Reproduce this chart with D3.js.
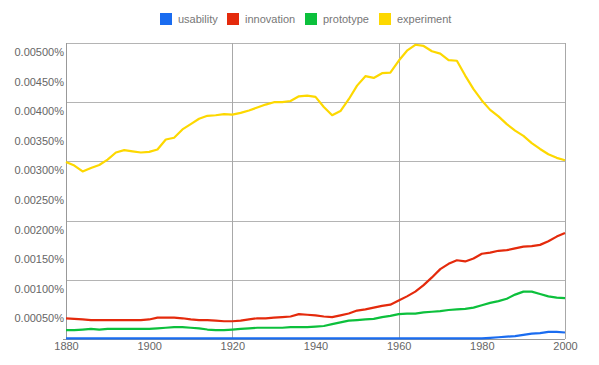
<!DOCTYPE html>
<html>
<head>
<meta charset="utf-8">
<script src="https://cdn.jsdelivr.net/npm/d3@7"></script>
<style>
  html, body { margin: 0; padding: 0; background: #fff; }
  svg { display: block; font-family: "Liberation Sans", Arial, sans-serif; }
</style>
</head>
<body>
<svg id="chart" width="599" height="365"></svg>
<script>
const years = d3.range(1880, 2001, 2);

const usability = [
  0.00001,0.00001,0.00001,0.00001,0.00001,0.00001,0.00001,0.00001,0.00001,0.00001,
  0.00001,0.00001,0.00001,0.00001,0.00001,0.00001,0.00001,0.00001,0.00001,0.00001,
  0.00001,0.00001,0.00001,0.00001,0.00001,0.00001,0.00001,0.00001,0.00001,0.00001,
  0.00001,0.00001,0.00001,0.00001,0.00001,0.00001,0.00001,0.00001,0.00001,0.00001,
  0.00001,0.00001,0.00001,0.00001,0.00001,0.00001,0.00001,0.00001,0.00001,0.00001,
  0.00001,0.00002,0.00003,0.00004,0.00005,0.00007,0.00009,0.00010,0.00012,0.00012,
  0.00011
];

const innovation = [
  0.00035,0.00034,0.00033,0.00032,0.00032,0.00032,0.00032,0.00032,0.00032,0.00032,
  0.00033,0.00036,0.00036,0.00036,0.00035,0.00033,0.00032,0.00032,0.00031,0.00030,
  0.00030,0.00031,0.00033,0.00035,0.00035,0.00036,0.00037,0.00038,0.00042,0.00041,
  0.00040,0.00038,0.00037,0.00040,0.00043,0.00048,0.00050,0.00053,0.00056,0.00058,
  0.00065,0.00072,0.00080,0.00091,0.00104,0.00118,0.00127,0.00133,0.00131,0.00136,
  0.00144,0.00146,0.00149,0.00150,0.00153,0.00156,0.00157,0.00159,0.00165,0.00173,
  0.00179
];

const prototype = [
  0.00015,0.00015,0.00016,0.00017,0.00016,0.00017,0.00017,0.00017,0.00017,0.00017,
  0.00017,0.00018,0.00019,0.00020,0.00020,0.00019,0.00018,0.00016,0.00015,0.00015,
  0.00016,0.00017,0.00018,0.00019,0.00019,0.00019,0.00019,0.00020,0.00020,0.00020,
  0.00021,0.00022,0.00025,0.00028,0.00031,0.00032,0.00033,0.00034,0.00037,0.00039,
  0.00042,0.00043,0.00043,0.00045,0.00046,0.00047,0.00049,0.00050,0.00051,0.00053,
  0.00057,0.00061,0.00064,0.00068,0.00075,0.00080,0.00080,0.00076,0.00072,0.00070,
  0.00069
];

const experiment = [
  0.00299,0.00293,0.00283,0.00289,0.00294,0.00303,0.00315,0.00319,0.00317,0.00315,
  0.00316,0.00320,0.00337,0.00340,0.00354,0.00363,0.00372,0.00377,0.00378,0.00380,
  0.00379,0.00382,0.00386,0.00391,0.00396,0.00400,0.00400,0.00402,0.00410,0.00411,
  0.00409,0.00392,0.00378,0.00385,0.00405,0.00428,0.00444,0.00441,0.00449,0.00450,
  0.00470,0.00487,0.00497,0.00495,0.00486,0.00482,0.00471,0.00470,0.00445,0.00422,
  0.00403,0.00387,0.00376,0.00363,0.00352,0.00343,0.00331,0.00321,0.00312,0.00306,
  0.00302
];

const seriesNames = ["usability", "innovation", "prototype", "experiment"];
const seriesColors = ["#1a6cf0", "#e42a0c", "#0cc03c", "#fdd800"];
const yLabelValues = [0.0005,0.0010,0.0015,0.0020,0.0025,0.0030,0.0035,0.0040,0.0045,0.0050];
const yGridValues = [0.001,0.002,0.003,0.004,0.005];
const xLabelValues = [1880,1900,1920,1940,1960,1980,2000];
const xGridValues = [1920,1960,2000];

const seriesValues = [usability, innovation, prototype, experiment];

const svg = d3.select("#chart");
const mLeft = 66, mRight = 565, mTop = 43, mBottom = 339;

const x = d3.scaleLinear().domain([1880, 2000]).range([mLeft, mRight]);
const y = d3.scaleLinear().domain([0, 0.005]).range([mBottom, mTop]);

// horizontal gridlines
svg.append("g")
  .attr("transform", `translate(${mLeft},0)`)
  .call(d3.axisLeft(y).tickValues(yGridValues).tickSize(-(mRight - mLeft)).tickFormat(""))
  .call(g => g.select(".domain").remove())
  .call(g => g.selectAll("line").attr("stroke", "#b4b4b4").attr("shape-rendering", "crispEdges"));

// vertical gridlines
svg.append("g")
  .attr("transform", `translate(0,${mBottom})`)
  .call(d3.axisBottom(x).tickValues(xGridValues).tickSize(-(mBottom - mTop)).tickFormat(""))
  .call(g => g.select(".domain").remove())
  .call(g => g.selectAll("line").attr("stroke", "#a8a8a8").attr("shape-rendering", "crispEdges"));

// left axis line
svg.append("line")
  .attr("x1", mLeft).attr("x2", mLeft).attr("y1", mTop).attr("y2", mBottom + 1)
  .attr("stroke", "#999").attr("shape-rendering", "crispEdges");
// bottom axis line
svg.append("line")
  .attr("x1", mLeft - 3).attr("x2", mRight).attr("y1", mBottom).attr("y2", mBottom)
  .attr("stroke", "#999").attr("shape-rendering", "crispEdges");

// y labels
svg.append("g")
  .attr("transform", `translate(${mLeft - 1},0)`)
  .call(d3.axisLeft(y).tickValues(yLabelValues).tickSize(0).tickPadding(1)
    .tickFormat(d => d.toFixed(5) + "%"))
  .call(g => g.select(".domain").remove())
  .call(g => g.selectAll("text")
    .attr("dy", "12.5")
    .attr("fill", "#666")
    .style("font-size", "11px")
    .style("font-family", "'Liberation Sans', Arial, sans-serif"));

// x labels
svg.append("g")
  .attr("transform", `translate(0,${mBottom})`)
  .call(d3.axisBottom(x).tickValues(xLabelValues).tickSize(0).tickPadding(3)
    .tickFormat(d3.format("d")))
  .call(g => g.select(".domain").remove())
  .call(g => g.selectAll("text")
    .attr("fill", "#666")
    .style("font-size", "11px")
    .style("font-family", "'Liberation Sans', Arial, sans-serif"));

// lines
const line = d3.line()
  .x((d, i) => x(years[i]))
  .y(d => y(d));

seriesValues.forEach((vals, k) => {
  svg.append("path")
    .datum(vals)
    .attr("fill", "none")
    .attr("stroke", seriesColors[k])
    .attr("stroke-width", 2.2)
    .attr("stroke-linejoin", "round")
    .attr("d", line);
});

// legend
const legendX = [160, 227, 305, 379];
const legend = svg.append("g");
seriesNames.forEach((name, k) => {
  const g = legend.append("g").attr("transform", `translate(${legendX[k]},13)`);
  g.append("rect").attr("width", 12).attr("height", 12).attr("fill", seriesColors[k]);
  g.append("text")
    .attr("x", 18).attr("y", 10)
    .attr("fill", "#777")
    .style("font-size", "11px")
    .text(name);
});
</script>
</body>
</html>
